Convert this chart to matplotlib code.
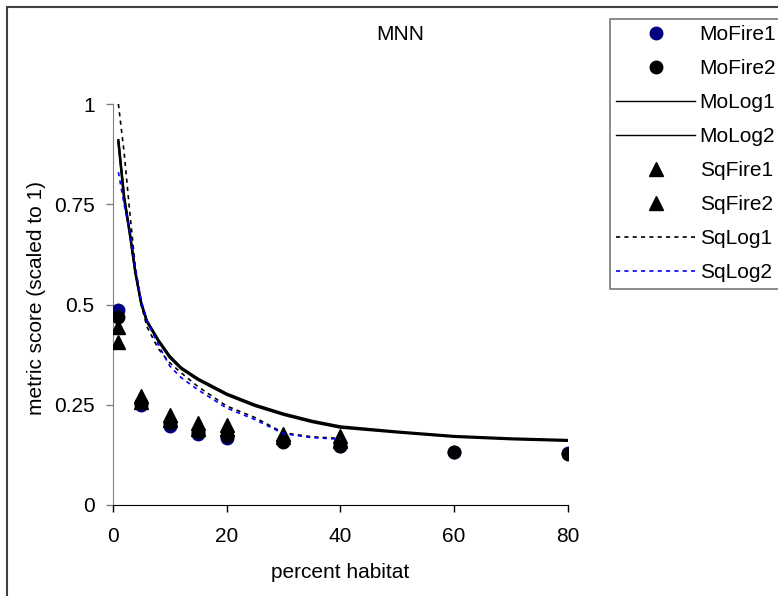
import numpy as np
import matplotlib
matplotlib.use("Agg")
import matplotlib.pyplot as plt
from matplotlib.patches import Rectangle

plt.rcParams["font.family"] = ["Liberation Sans", "DejaVu Sans"]
plt.rcParams["font.size"] = 15

# fire-simulation points
x_mo_fire = [1, 5, 10, 15, 20, 30, 40, 60, 80]
mo_fire1 = [0.486, 0.250, 0.196, 0.177, 0.167, 0.160, 0.147, 0.133, 0.130]
mo_fire2 = [0.470, 0.254, 0.204, 0.181, 0.172, 0.157, 0.146, 0.133, 0.128]

x_sq_fire = [1, 5, 10, 15, 20, 30, 40]
sq_fire1 = [0.445, 0.272, 0.225, 0.205, 0.200, 0.178, 0.172]
sq_fire2 = [0.407, 0.258, 0.212, 0.190, 0.190, 0.170, 0.160]

# fitted log curves
x_mo_log = [1, 2, 3, 4, 5, 6, 8, 10, 12, 15, 20, 25, 30, 35, 40, 50, 60, 70, 80]
mo_log1 = [0.910, 0.770, 0.680, 0.580, 0.505, 0.460, 0.412, 0.372, 0.343, 0.315,
           0.278, 0.250, 0.228, 0.210, 0.196, 0.183, 0.172, 0.166, 0.162]
mo_log2 = [0.905, 0.765, 0.676, 0.577, 0.502, 0.457, 0.409, 0.368, 0.340, 0.312,
           0.275, 0.247, 0.225, 0.207, 0.193, 0.181, 0.170, 0.164, 0.160]

x_sq_log = [1, 2, 3, 4, 5, 6, 8, 10, 12, 15, 20, 25, 30, 35, 40]
sq_log1 = [1.000, 0.880, 0.730, 0.590, 0.500, 0.445, 0.390, 0.355, 0.330, 0.295,
           0.247, 0.218, 0.180, 0.170, 0.166]
sq_log2 = [0.830, 0.750, 0.680, 0.590, 0.510, 0.460, 0.400, 0.347, 0.318, 0.287,
           0.242, 0.213, 0.178, 0.168, 0.164]

W, H = 778, 596
fig = plt.figure(figsize=(W / 100, H / 100), dpi=100)
ax = fig.add_axes([112.7 / W, 1 - 505 / H, (568 - 112.7) / W, (505 - 104) / H])

ax.plot(x_mo_fire, mo_fire1, "o", color="#000080", ms=9, label="MoFire1", zorder=3)
ax.plot(x_mo_fire, mo_fire2, "o", color="black", ms=9, label="MoFire2", zorder=3)
ax.plot(x_mo_log, mo_log1, "-", color="black", lw=1.7, label="MoLog1", zorder=4)
ax.plot(x_mo_log, mo_log2, "-", color="black", lw=1.7, label="MoLog2", zorder=4)
ax.plot(x_sq_fire, sq_fire1, "^", color="black", ms=10, label="SqFire1", zorder=5)
ax.plot(x_sq_fire, sq_fire2, "^", color="black", ms=10, label="SqFire2", zorder=5)
ax.plot(x_sq_log, sq_log1, color="black", lw=1.2, dashes=(2.5, 2.5), label="SqLog1", zorder=6)
ax.plot(x_sq_log, sq_log2, color="#0000ff", lw=1.2, dashes=(2.5, 2.5), label="SqLog2", zorder=6)

ax.set_xlim(0, 80)
ax.set_ylim(0, 1)
ax.set_xticks([0, 20, 40, 60, 80])
ax.set_yticks([0, 0.25, 0.5, 0.75, 1])
ax.set_yticklabels(["0", "0.25", "0.5", "0.75", "1"])
for s in ["top", "right"]:
    ax.spines[s].set_visible(False)
ax.spines["left"].set_color("#808080")
ax.spines["bottom"].set_color("black")
ax.tick_params(axis="y", length=5, width=1, color="#808080", pad=8)
ax.tick_params(axis="x", length=5, width=1, color="black", pad=11)
ax.patch.set_alpha(0)

fig.text(340 / W, 1 - 573 / H, "percent habitat", ha="center", va="center")
fig.text(37 / W, 1 - 298 / H, "metric score (scaled to 1)", rotation=90,
         ha="center", va="center")
fig.text(400 / W, 1 - 35 / H, "MNN", ha="center", va="center")

leg = fig.legend(loc="upper left", bbox_to_anchor=(610 / W, 1 - 19 / H),
                 borderaxespad=0, frameon=True, fancybox=False, numpoints=1,
                 handlelength=3.8, handletextpad=0.2, borderpad=0.3,
                 labelspacing=0.72, edgecolor="#555555")
leg.get_frame().set_linewidth(1.2)
for h in leg.get_lines():
    if h.get_linestyle() == "-":
        h.set_linewidth(1.0)

# chart area border (only top and left fall inside the picture)
fig.patches.append(Rectangle((7 / W, -0.1), 1.2, 1 - 7 / H + 0.1,
                             transform=fig.transFigure, fill=False,
                             edgecolor="#404040", lw=1.5))

fig.savefig("out.png", dpi=100, facecolor="white")
